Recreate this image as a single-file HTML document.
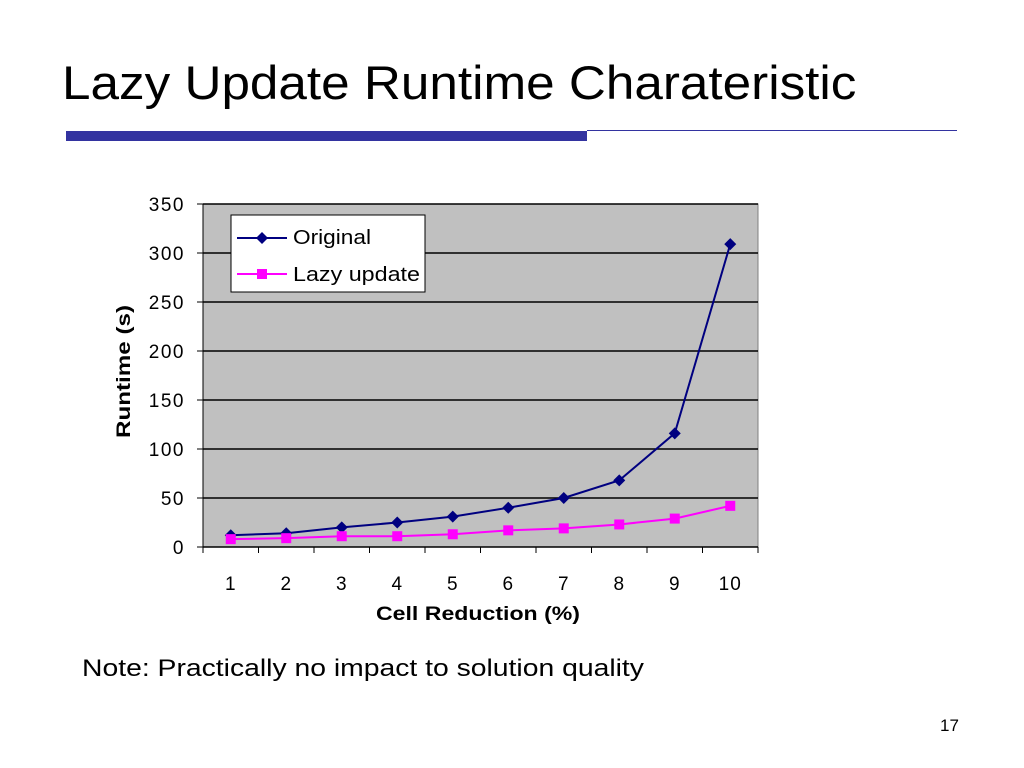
<!DOCTYPE html>
<html><head><meta charset="utf-8"><style>
body{margin:0;width:1024px;height:768px;background:#fff;font-family:"Liberation Sans",sans-serif;position:relative;overflow:hidden}
.t{position:absolute}
</style></head><body>
<div class="t" style="left:62px;top:55px;font-size:47px;color:#000;transform:scaleX(1.09);transform-origin:0 0;white-space:nowrap">Lazy Update Runtime Charateristic</div>
<div class="t" style="left:66px;top:131px;width:521px;height:10px;background:#3333a0"></div>
<div class="t" style="left:587px;top:130px;width:370px;height:1px;background:#3333a0"></div>
<svg class="t" style="left:0;top:0" width="1024" height="768">
<g id="g"></g>
</svg>
<div class="t" style="left:82px;top:655px;font-size:24px;transform:scaleX(1.18);transform-origin:0 0;white-space:nowrap">Note: Practically no impact to solution quality</div>
<div class="t" style="left:940px;top:716px;font-size:17px">17</div>
<script>
const categories=["1","2","3","4","5","6","7","8","9","10"];
const original=[12,14,20,25,31,40,50,68,116,309];
const lazy=[8,9,11,11,13,17,19,23,29,42];
const yTicks=[0,50,100,150,200,250,300,350];
const L=203,R=758,T=204,B=547,yMax=350;
const step=(R-L)/categories.length;
const xs=i=>L+step*(i+0.5);
const ys=v=>B-(v/yMax)*(B-T);
const NS="http://www.w3.org/2000/svg";
const g=document.getElementById('g');
function mk(tag,a,txt){const e=document.createElementNS(NS,tag);for(const k in a)e.setAttribute(k,a[k]);if(txt!==undefined)e.textContent=txt;g.appendChild(e);return e;}
let e=mk('rect',{x:L,y:T,width:R-L,height:B-T,fill:'#c0c0c0',stroke:'#808080'});


yTicks.forEach(v=>{
 if(v>0){e=mk('line',{x1:L,x2:R,y1:ys(v),y2:ys(v),stroke:'#000','stroke-width':1.5});
 
 }
 mk('line',{x1:L-6,x2:L,y1:ys(v),y2:ys(v),stroke:'#000'});
 e=mk('text',{x:L-18,y:ys(v)+7,'text-anchor':'end','font-size':19,'letter-spacing':1.5},v);
 
 
});
mk('line',{x1:L,x2:L,y1:T,y2:B,stroke:'#000'});
mk('line',{x1:L,x2:R,y1:B,y2:B,stroke:'#000','stroke-width':1.5});
for(let i=0;i<=categories.length;i++)mk('line',{x1:L+step*i,x2:L+step*i,y1:B,y2:B+6,stroke:'#000'});
categories.forEach((c,i)=>{e=mk('text',{x:xs(i),y:590,'text-anchor':'middle','font-size':19,'letter-spacing':1},c);
 
 });
e=mk('text',{x:376,y:620,'font-size':19,'font-weight':'bold',textLength:204,lengthAdjust:'spacingAndGlyphs'},'Cell Reduction (%)');


e=mk('text',{x:0,y:0,'font-size':19,'font-weight':'bold',textLength:133,lengthAdjust:'spacingAndGlyphs',transform:'translate(130,438) rotate(-90)'},'Runtime (s)');


function diamond(x,y,c){return mk('path',{d:`M${x} ${y-6}L${x+6} ${y}L${x} ${y+6}L${x-6} ${y}Z`,fill:c});}
function square(x,y,c){return mk('rect',{x:x-5,y:y-5,width:10,height:10,fill:c});}
e=mk('polyline',{points:original.map((v,i)=>xs(i)+','+ys(v)).join(' '),fill:'none',stroke:'#000080','stroke-width':2});


e=mk('polyline',{points:lazy.map((v,i)=>xs(i)+','+ys(v)).join(' '),fill:'none',stroke:'#ff00ff','stroke-width':2});


original.forEach((v,i)=>{e=diamond(xs(i),ys(v),'#000080');
 
 });
lazy.forEach((v,i)=>{e=square(xs(i),ys(v),'#ff00ff');
 
 });
e=mk('rect',{x:231,y:215,width:194,height:77,fill:'#fff',stroke:'#000'});


mk('line',{x1:237,x2:287,y1:238,y2:238,stroke:'#000080','stroke-width':2});diamond(262,238,'#000080');
e=mk('text',{x:293,y:244,'font-size':20,textLength:78,lengthAdjust:'spacingAndGlyphs'},'Original');


mk('line',{x1:237,x2:287,y1:274,y2:274,stroke:'#ff00ff','stroke-width':2});square(262,274,'#ff00ff');
e=mk('text',{x:293,y:281,'font-size':20,textLength:127,lengthAdjust:'spacingAndGlyphs'},'Lazy update');


</script>
</body></html>
